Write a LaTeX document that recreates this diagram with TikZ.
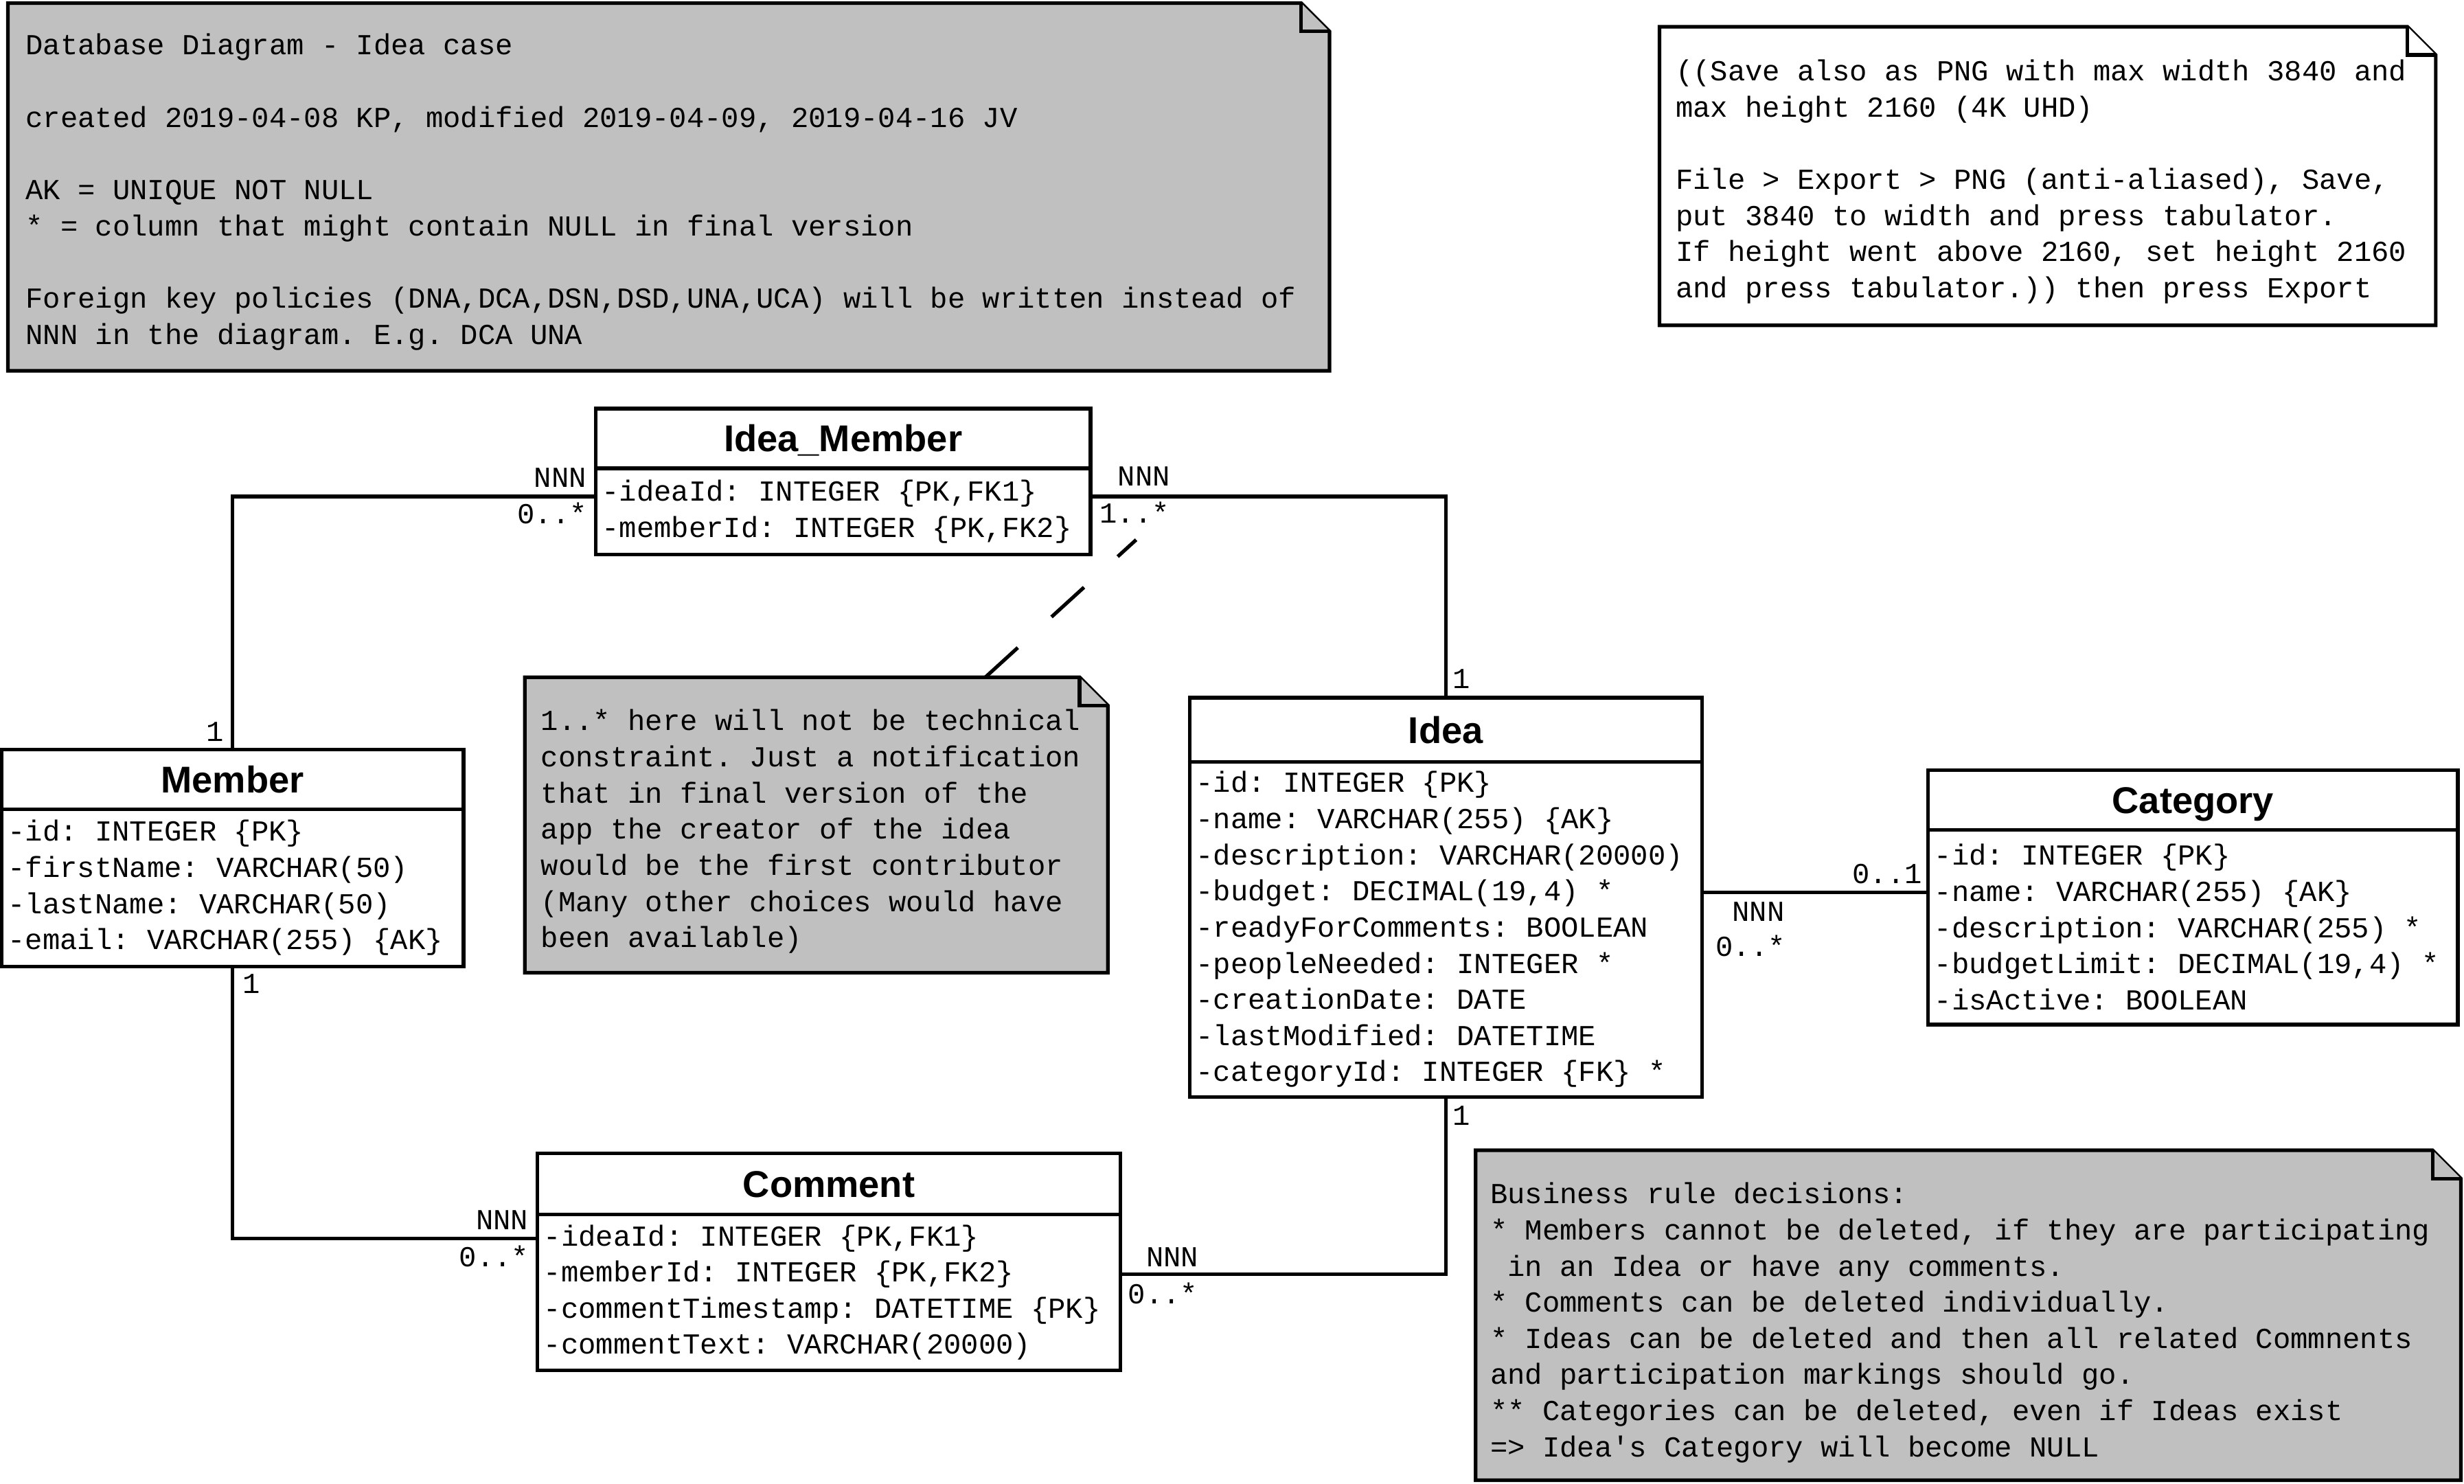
\documentclass[tikz,border=0pt]{standalone}
\usepackage{fontspec}
\usetikzlibrary{positioning}
\newfontfamily\monofont{Liberation Mono}
\newfontfamily\titlefont{Liberation Sans}
\newcommand\lbr{\char"7B\relax}
\newcommand\rbr{\char"7D\relax}
\definecolor{notegray}{RGB}{192,192,192}
\frenchspacing
\tikzset{
	tabtitle/.style={draw, line width=1.3pt, outer sep=0pt, inner sep=0pt, anchor=north west,
		minimum height=0.76cm, text height=9.7pt, text depth=0pt, font=\titlefont\bfseries\fontsize{13.5}{16}\selectfont},
	tabbody/.style={draw, line width=1.3pt, outer sep=0pt, inner xsep=0.08cm, inner ysep=0.04cm,
		align=flush left, font=\monofont\fontsize{10.5}{13.09}\selectfont},
	note/.style={draw, line width=1.3pt, fill=notegray, line join=miter},
	notetext/.style={anchor=north west, inner sep=0pt, align=left, font=\monofont\fontsize{10.5}{13.09}\selectfont},
	link/.style={draw, line width=1.3pt},
	mult/.style={inner sep=0pt, font=\monofont\fontsize{10.5}{13.09}\selectfont},
}
\begin{document}
\begin{tikzpicture}
	\useasboundingbox (0,0) rectangle (31.36,-18.88);
	% les notes
	\draw[note] (0.10,-0.04) -- (16.56,-0.04) -- (16.92,-0.40) -- (16.92,-4.72) -- (0.10,-4.72) -- cycle;
	\draw[note] (16.56,-0.04) |- (16.92,-0.40);
	\node[notetext] (noteHead) at (0.32,-0.37) {\strut Database Diagram - Idea case\\[0.46cm]
		created 2019-04-08 KP, modified 2019-04-09, 2019-04-16 JV\\[0.46cm]
		AK = UNIQUE NOT NULL\\
		* = column that might contain NULL in final version\\[0.46cm]
		Foreign key policies (DNA,DCA,DSN,DSD,UNA,UCA) will be written instead of\\
		NNN in the diagram. E.g. DCA UNA};
	\draw[note, fill=white] (21.12,-0.34) -- (30.64,-0.34) -- (31.00,-0.70) -- (31.00,-4.14) -- (21.12,-4.14) -- cycle;
	\draw[note, fill=white] (30.64,-0.34) |- (31.00,-0.70);
	\node[notetext] (noteExport) at (21.32,-0.70) {\strut ((Save also as PNG with max width 3840 and\\
		max height 2160 (4K UHD)\\[0.46cm]
		File > Export > PNG (anti-aliased), Save,\\
		put 3840 to width and press tabulator.\\
		If height went above 2160, set height 2160\\
		and press tabulator.)) then press Export};
	\draw[note] (6.68,-8.62) -- (13.74,-8.62) -- (14.10,-8.98) -- (14.10,-12.38) -- (6.68,-12.38) -- cycle;
	\draw[note] (13.74,-8.62) |- (14.10,-8.98);
	\node[notetext] (noteIdea) at (6.88,-8.97) {\strut 1..* here will not be technical\\
		constraint. Just a notification\\
		that in final version of the\\
		app the creator of the idea\\
		would be the first contributor\\
		(Many other choices would have\\
		been available)};
	\draw[note] (18.78,-14.64) -- (30.96,-14.64) -- (31.32,-15.00) -- (31.32,-18.84) -- (18.78,-18.84) -- cycle;
	\draw[note] (30.96,-14.64) |- (31.32,-15.00);
	\node[notetext] (noteRules) at (18.96,-14.99) {\strut Business rule decisions:\\
		* Members cannot be deleted, if they are participating\\
		\phantom{*}in an Idea or have any comments.\\
		* Comments can be deleted individually.\\
		* Ideas can be deleted and then all related Commnents\\
		and participation markings should go.\\
		** Categories can be deleted, even if Ideas exist\\
		=> Idea\textquotesingle s Category will become NULL};
	% les tables
	\node[tabtitle, minimum width=5.88cm] (member) at (0.02,-9.54) {Member};
	\node[tabbody, below=0pt of member, text width=5.72cm, minimum height=2.00cm] (memberBody)
		{-id: INTEGER \lbr PK\rbr\\-firstName: VARCHAR(50)\\-lastName: VARCHAR(50)\\-email: VARCHAR(255) \lbr AK\rbr};
	\node[tabtitle, minimum width=6.30cm] (im) at (7.58,-5.20) {Idea\_Member};
	\node[tabbody, below=0pt of im, text width=6.14cm, minimum height=1.10cm] (imBody)
		{-ideaId: INTEGER \lbr PK,FK1\rbr\\-memberId: INTEGER \lbr PK,FK2\rbr};
	\node[tabtitle, minimum width=6.52cm, minimum height=0.82cm] (idea) at (15.14,-8.88) {Idea};
	\node[tabbody, below=0pt of idea, text width=6.36cm, minimum height=4.26cm] (ideaBody)
		{-id: INTEGER \lbr PK\rbr\\-name: VARCHAR(255) \lbr AK\rbr\\-description: VARCHAR(20000)\\-budget: DECIMAL(19,4) *\\
		-readyForComments: BOOLEAN\\-peopleNeeded: INTEGER *\\-creationDate: DATE\\-lastModified: DATETIME\\
		-categoryId: INTEGER \lbr FK\rbr\ *};
	\node[tabtitle, minimum width=6.74cm] (cat) at (24.54,-9.80) {Category};
	\node[tabbody, below=0pt of cat, text width=6.58cm, minimum height=2.48cm] (catBody)
		{-id: INTEGER \lbr PK\rbr\\-name: VARCHAR(255) \lbr AK\rbr\\-description: VARCHAR(255) *\\-budgetLimit: DECIMAL(19,4) *\\
		-isActive: BOOLEAN};
	\node[tabtitle, minimum width=7.42cm, minimum height=0.78cm] (comment) at (6.84,-14.68) {Comment};
	\node[tabbody, below=0pt of comment, text width=7.26cm, minimum height=1.98cm] (commentBody)
		{-ideaId: INTEGER \lbr PK,FK1\rbr\\-memberId: INTEGER \lbr PK,FK2\rbr\\-commentTimestamp: DATETIME \lbr PK\rbr\\
		-commentText: VARCHAR(20000)};
	% les liens
	\coordinate (imL) at ([yshift=0.19cm]imBody.west);
	\coordinate (imR) at ([yshift=0.19cm]imBody.east);
	\coordinate (ideaR) at ([yshift=0.47cm]ideaBody.east);
	\coordinate (catL) at (ideaR -| catBody.west);
	\coordinate (commentL) at ([yshift=0.69cm]commentBody.west);
	\coordinate (commentR) at ([yshift=0.23cm]commentBody.east);
	\draw[link] (member.north) |- (imL);
	\draw[link] (imR) -| (idea.north);
	\draw[link] (ideaR) -- (catL);
	\draw[link] (memberBody.south) |- (commentL);
	\draw[link] (ideaBody.south) |- (commentR);
	% la note sur 1..*
	\coordinate (noteTop) at (12.54,-8.62);
	\coordinate (imLink) at (14.46,-6.87);
	\draw[line width=1.3pt, dash pattern=on 0.56cm off 0.58cm] (noteTop) -- (imLink);
	% les multiplicites
	\node[mult] (m1) at ([shift={(-0.22,0.23)}]member.north) {1};
	\node[mult] (m2) at ([shift={(-0.45,0.24)}]imL) {NNN};
	\node[mult] (m3) at ([shift={(-0.55,-0.21)}]imL) {0..*};
	\node[mult] (m4) at ([shift={(0.68,0.26)}]imR) {NNN};
	\node[mult] (m5) at ([shift={(0.56,-0.20)}]imR) {1..*};
	\node[mult] (m6) at ([shift={(0.20,0.24)}]idea.north) {1};
	\node[mult] (m7) at ([shift={(-0.52,0.24)}]catL) {0..1};
	\node[mult] (m8) at ([shift={(0.72,-0.24)}]ideaR) {NNN};
	\node[mult] (m9) at ([shift={(0.62,-0.68)}]ideaR) {0..*};
	\node[mult] (m10) at ([shift={(0.24,-0.22)}]memberBody.south) {1};
	\node[mult] (m11) at ([shift={(-0.45,0.23)}]commentL) {NNN};
	\node[mult] (m12) at ([shift={(-0.55,-0.23)}]commentL) {0..*};
	\node[mult] (m13) at ([shift={(0.20,-0.24)}]ideaBody.south) {1};
	\node[mult] (m14) at ([shift={(0.66,0.22)}]commentR) {NNN};
	\node[mult] (m15) at ([shift={(0.54,-0.24)}]commentR) {0..*};
\end{tikzpicture}
\end{document}
